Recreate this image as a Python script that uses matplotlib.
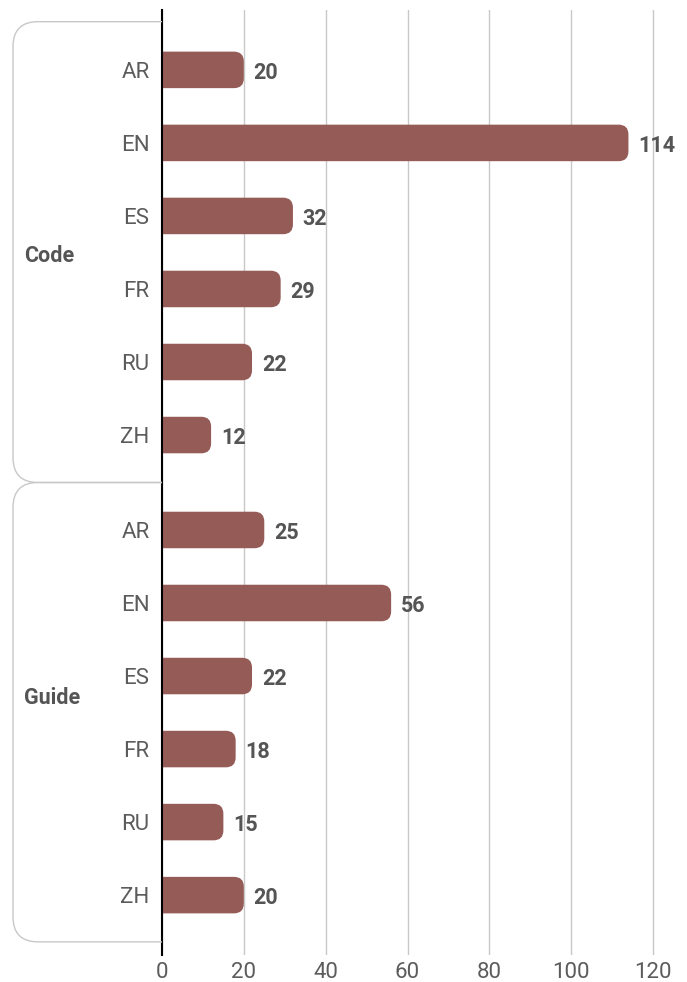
import matplotlib.pyplot as plt
from matplotlib.patches import FancyBboxPatch, PathPatch
from matplotlib.path import Path

plt.rcParams['font.family'] = ['Roboto', 'DejaVu Sans']

# request counts per section and language
groups = ['Code', 'Guide']
languages = ['AR', 'EN', 'ES', 'FR', 'RU', 'ZH']
code_counts = [20, 114, 32, 29, 22, 12]
guide_counts = [25, 56, 22, 18, 15, 20]
x_ticks = [0, 20, 40, 60, 80, 100, 120]

bar_color = '#955b57'
text_color = '#555555'
grid_color = '#c8c8c8'

px_per_unit = 491 / 120
x_max = 121

fig = plt.figure(figsize=(6.87, 9.82), dpi=100)
ax = fig.add_axes([162 / 687, 27 / 982, x_max * px_per_unit / 687, 945 / 982])

gap = 0.3
code_pos = [i for i in range(len(languages))]
guide_pos = [len(languages) + gap + i for i in range(len(languages))]
positions = code_pos + guide_pos
values = code_counts + guide_counts

ax.set_xlim(0, x_max)
ax.set_ylim(guide_pos[-1] + 0.82, -0.82)

# rounded bars; the left rounding is hidden behind the axis
bar_h = 0.5
r = 2.4
aspect = px_per_unit / 73.0
for y, v in zip(positions, values):
    p = FancyBboxPatch((-r * 2, y - bar_h / 2), v + r * 2, bar_h,
                       boxstyle=f'round,pad=0,rounding_size={r}',
                       mutation_aspect=aspect, fc=bar_color, ec='none',
                       zorder=3)
    ax.add_patch(p)
    ax.text(v + 2.4, y + 0.04, str(v), ha='left', va='center',
            fontsize=15.5, fontweight='bold', color=text_color, clip_on=False)

ax.set_yticks(positions)
ax.set_yticklabels(languages * 2)
ax.set_xticks(x_ticks)
ax.tick_params(axis='both', length=0, labelsize=16, labelcolor='#5c5c5c')
ax.tick_params(axis='y', pad=9)
ax.tick_params(axis='x', pad=5)

ax.grid(axis='x', color=grid_color, lw=1)
ax.set_axisbelow(True)
for s in ['top', 'right', 'bottom']:
    ax.spines[s].set_visible(False)
ax.spines['left'].set_color('black')
ax.spines['left'].set_linewidth(1.5)
ax.spines['left'].set_zorder(5)


# group brackets drawn in pixel space so the corners stay round
def bracket(y_top, y_bot, rad=25):
    x_l = 13
    x_r = ax.transData.transform((0, 0))[0]
    yt = ax.transData.transform((0, y_top))[1]
    yb = ax.transData.transform((0, y_bot))[1]
    verts = [(x_r, yt), (x_l + rad, yt), (x_l, yt), (x_l, yt - rad),
             (x_l, yb + rad), (x_l, yb), (x_l + rad, yb), (x_r, yb)]
    codes = [Path.MOVETO, Path.LINETO, Path.CURVE3, Path.CURVE3,
             Path.LINETO, Path.CURVE3, Path.CURVE3, Path.LINETO]
    inv = fig.transFigure.inverted()
    path = Path(inv.transform(verts), codes)
    fig.add_artist(PathPatch(path, fc='none', ec=grid_color, lw=1,
                             transform=fig.transFigure))


mid = (code_pos[-1] + guide_pos[0]) / 2
bracket(-0.66, mid)
bracket(mid, guide_pos[-1] + 0.64)

label_y = [2.55, 8.6]
for name, y in zip(groups, label_y):
    yf = fig.transFigure.inverted().transform(ax.transData.transform((0, y)))[1]
    fig.text(24 / 687, yf, name, ha='left', va='center', fontsize=15.5,
             fontweight='bold', color=text_color)

fig.savefig('out.png', dpi=100)
